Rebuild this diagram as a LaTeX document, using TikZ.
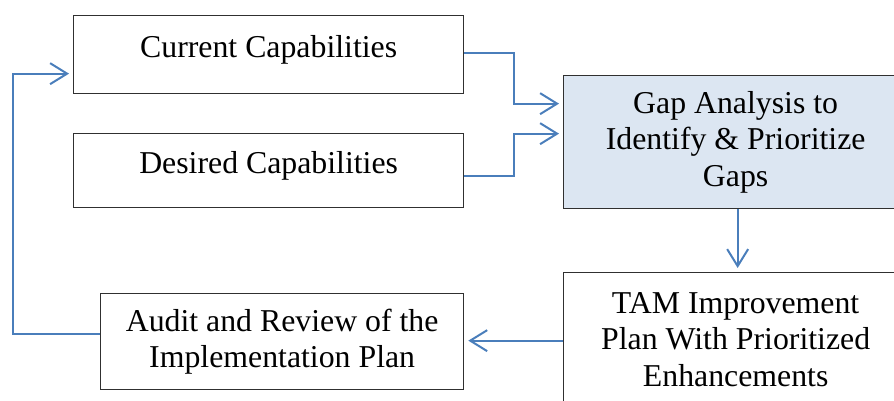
\documentclass[tikz,border=0pt]{standalone}
\usepackage{fontspec}
\setmainfont{Liberation Serif}
\usetikzlibrary{arrows.meta}
\definecolor{linkblue}{HTML}{4A7EBB}
\definecolor{gapfill}{HTML}{DCE6F2}
\definecolor{edge}{HTML}{303030}
\begin{document}
\begin{tikzpicture}[x=1pt,y=-1pt,
  box/.style={draw=edge, line width=1.3pt, anchor=north west, align=center,
    inner sep=0pt, font=\fontsize{31.8}{36.5}\selectfont},
  oneline/.style={text height=22pt, text depth=16pt},
  link/.style={draw=linkblue, line width=2pt,
    -{Straight Barb[length=17pt,width=21pt,line width=2pt]}, shorten >=4pt}]
\useasboundingbox (0,0) rectangle (894,400);
\clip (0,0) rectangle (894,400);
% capability boxes
\node[box, oneline, minimum width=390pt, minimum height=78pt] (cur) at (73,15) {Current Capabilities};
\node[box, oneline, minimum width=390pt, minimum height=74pt] (des) at (73,133) {Desired Capabilities};
% analysis and planning boxes (partly beyond the page edge)
\node[box, fill=gapfill, minimum width=344pt, minimum height=133pt] (gap) at (563,75)
  {Gap Analysis to\\Identify \& Prioritize\\Gaps};
\node[box, minimum width=344pt, minimum height=134pt] (tam) at (563,272)
  {TAM Improvement\\Plan With Prioritized\\Enhancements};
\node[box, minimum width=363pt, minimum height=96pt] (aud) at (100,293)
  {Audit and Review of the\\Implementation Plan};
% connectors
\draw[link] ([yshift=2pt]cur.east) -- ++(50,0) |- ([yshift=38.5pt]gap.west);
\draw[link] ([yshift=-5pt]des.east) -- ++(50,0) |- ([yshift=8.5pt]gap.west);
\draw[link] ([xshift=2pt]gap.south) -- ([xshift=2pt]tam.north);
\draw[link] ([yshift=-1pt]tam.west) -- ([yshift=-1pt]tam.west -| aud.east);
\draw[link] ([yshift=8pt]aud.west) -- ++(-87,0) |- ([yshift=-19pt]cur.west);
\end{tikzpicture}
\end{document}
